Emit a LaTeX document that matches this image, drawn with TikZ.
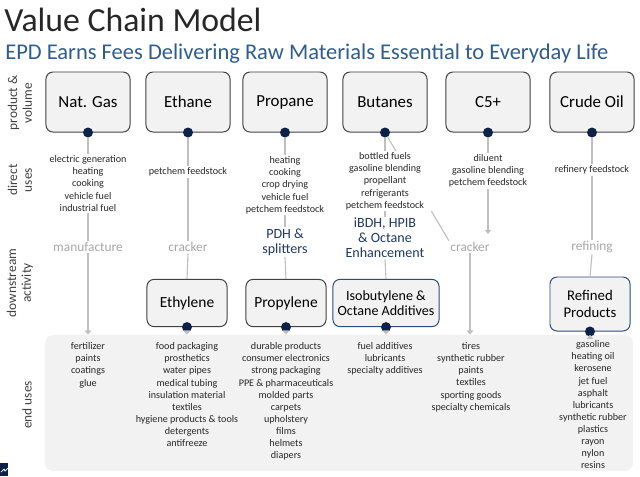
\documentclass[tikz,border=0pt]{standalone}
\usepackage{fontspec}
\setmainfont{Carlito}
\usetikzlibrary{arrows.meta,backgrounds}
\definecolor{boxfill}{HTML}{F2F2F2}
\definecolor{boxline}{HTML}{404040}
\definecolor{navy}{HTML}{0E2147}
\definecolor{linegray}{HTML}{BFBFBF}
\definecolor{actgray}{HTML}{A6A6A6}
\definecolor{subblue}{HTML}{2E5C8C}
\definecolor{procblue}{HTML}{1F3864}
\definecolor{dsline}{HTML}{2F4A75}
\definecolor{usetext}{HTML}{262626}

\begin{document}
\begin{tikzpicture}[x=0.025cm,y=-0.025cm,
  product/.style={draw=boxline,fill=boxfill,rounded corners=5pt,line width=0.7pt,minimum width=2.1cm,minimum height=1.5cm,align=center,font=\fontsize{12}{14}\selectfont,text=black},
  derived/.style={product,minimum width=2cm,minimum height=1.18cm,font=\fontsize{11}{12}\selectfont},
  dot/.style={circle,fill=navy,inner sep=0pt,minimum size=0.25cm},
  uses/.style={align=center,inner sep=1pt,text=usetext,font=\fontsize{7.2}{8.6}\selectfont},
  activity/.style={text=actgray,inner sep=1pt,font=\fontsize{9.5}{11}\selectfont},
  process/.style={align=center,inner sep=1pt,text=procblue,font=\fontsize{10}{10.6}\selectfont},
  rowlabel/.style={rotate=90,align=center,text=boxline,font=\fontsize{9.5}{10.5}\selectfont},
  link/.style={draw=linegray,line width=0.8pt},
  arrow/.style={link,-{Triangle[length=3pt,width=4.5pt]}}
]
\useasboundingbox (0,0) rectangle (640,476);
\node[anchor=base west,inner sep=0pt,font=\fontsize{24}{26}\selectfont,text=usetext] (title) at (4,31) {Value Chain Model};
\node[anchor=base west,inner sep=0pt,font=\fontsize{16}{18}\selectfont,text=subblue] (subtitle) at (5,59) {EPD Earns Fees Delivering Raw Materials Essential to Everyday Life};

\node[rowlabel] (lproduct) at (20,103) {product \&\\volume};
\node[rowlabel] (ldirect) at (20,180) {direct\\uses};
\node[rowlabel] (ldownstream) at (20,283) {downstream\\activity};
\node[rowlabel] (lend) at (27,405) {end uses};

\node[fill=boxfill,rounded corners=6pt,minimum width=14.7cm,minimum height=3.4cm,inner sep=0pt] (endpanel) at (339,403) {};

\node[product] (natgas) at (88,102) {Nat. Gas};
\node[product] (ethane) at (188,102) {Ethane};
\node[product] (propane) at (285,102) {Propane};
\node[product] (butanes) at (385,102) {Butanes};
\node[product] (cfive) at (488,102) {C5+};
\node[product] (crude) at (592,102) {Crude Oil};
\node[dot] (natgasdot) at (natgas.south) {};
\node[dot] (ethanedot) at (ethane.south) {};
\node[dot] (propanedot) at (propane.south) {};
\node[dot] (butanesdot) at (butanes.south) {};
\node[dot] (cfivedot) at (cfive.south) {};
\node[dot] (crudedot) at (crude.south) {};

\node[uses,anchor=north] (natgasuses) at (88,154) {electric generation\\heating\\cooking\\vehicle fuel\\industrial fuel};
\node[uses,anchor=north] (ethaneuses) at (188,166) {petchem feedstock};
\node[uses,anchor=north] (propaneuses) at (285,155) {heating\\cooking\\crop drying\\vehicle fuel\\petchem feedstock};
\node[uses,anchor=north,fill=white,minimum width=2.4cm] (butanesuses) at (385,151) {bottled fuels\\gasoline blending\\propellant\\refrigerants\\petchem feedstock};
\node[uses,anchor=north] (cfiveuses) at (488,153) {diluent\\gasoline blending\\petchem feedstock};
\node[uses,anchor=north] (crudeuses) at (592,164) {refinery feedstock};

\node[activity] (manufacture) at (88,247) {manufacture};
\node[activity] (ethcracker) at (188,247) {cracker};
\node[process] (pdh) at (285,242) {PDH \&\\splitters};
\node[process] (ibdh) at (385,238) {iBDH, HPIB\\\& Octane\\Enhancement};
\node[activity] (cfivecracker) at (470,247) {cracker};
\node[activity] (refining) at (592,247) {refining};
\coordinate (cfivetip) at (488,234);

\node[derived] (ethylene) at (187,303) {Ethylene};
\node[derived] (propylene) at (286,303) {Propylene};
\node[derived,draw=dsline,minimum width=2.55cm,font=\fontsize{10}{11}\selectfont] (isobutylene) at (386,303) {Isobutylene \&\\Octane Additives};
\node[derived,draw=dsline,minimum height=1.35cm,font=\fontsize{10.5}{12}\selectfont] (refined) at (590,304) {Refined\\Products};
\node[dot] (ethylenedot) at (ethylene.south) {};
\node[dot] (propylenedot) at (propylene.south) {};
\node[dot] (isobutylenedot) at (isobutylene.south) {};
\node[dot] (refineddot) at (refined.south) {};

\node[anchor=north,uses] (natgasend) at (88,341) {fertilizer\\paints\\coatings\\glue};
\node[anchor=north,uses] (ethyleneend) at (187,341) {food packaging\\prosthetics\\water pipes\\medical tubing\\insulation material\\textiles\\hygiene products \& tools\\detergents\\antifreeze};
\node[anchor=north,uses] (propyleneend) at (286,341) {durable products\\consumer electronics\\strong packaging\\PPE \& pharmaceuticals\\molded parts\\carpets\\upholstery\\films\\helmets\\diapers};
\node[anchor=north,uses] (isobutyleneend) at (385,341) {fuel additives\\lubricants\\specialty additives};
\node[anchor=north,uses] (cfiveend) at (471,341) {tires\\synthetic rubber\\paints\\textiles\\sporting goods\\specialty chemicals};
\node[anchor=north,uses] (refinedend) at (593,339) {gasoline\\heating oil\\kerosene\\jet fuel\\asphalt\\lubricants\\synthetic rubber\\plastics\\rayon\\nylon\\resins};

\begin{scope}[on background layer]
\draw[link] (butanesdot) -- (cfivecracker.north west);
\end{scope}
\draw[link] (natgasdot) -- (natgasuses.north);
\draw[link] (natgasuses.south) -- (manufacture.north);
\draw[link] (ethanedot) -- (ethaneuses.north);
\draw[link] (ethaneuses.south) -- (ethcracker.north);
\draw[link] (ethcracker.south) -- (ethylene.north);
\draw[link] (propanedot) -- (propaneuses.north);
\draw[link] (propaneuses.south) -- (pdh.north);
\draw[link] (pdh.south) -- (propylene.north);
\draw[link] (butanesdot) -- (butanesuses.north);
\draw[link] (butanesuses.south) -- (ibdh.north);
\draw[link] (ibdh.south) -- (isobutylene.north);
\draw[link] (cfivedot) -- (cfiveuses.north);
\draw[arrow] (cfiveuses.south) -- (cfivetip);
\draw[link] (crudedot) -- (crudeuses.north);
\draw[link] (crudeuses.south) -- (refining.north);
\draw[link] (refining.south) -- (refined.north);

\draw[arrow] (manufacture.south) -- (manufacture.south |- endpanel.north);
\draw[arrow] (ethylenedot) -- (ethylenedot |- endpanel.north);
\draw[arrow] (propylenedot) -- (propylenedot |- endpanel.north);
\draw[arrow] (isobutylenedot) -- (isobutylenedot |- endpanel.north);
\draw[arrow] (cfivecracker.south) -- (cfivecracker.south |- endpanel.north);
\draw[arrow] (refineddot) -- (refineddot |- endpanel.north);

\fill[navy] (0,463) rectangle (8,476);
\draw[white,line width=0.5pt] (1,472) -- (4,469) -- (5,471) -- (8,468);
\end{tikzpicture}
\end{document}
